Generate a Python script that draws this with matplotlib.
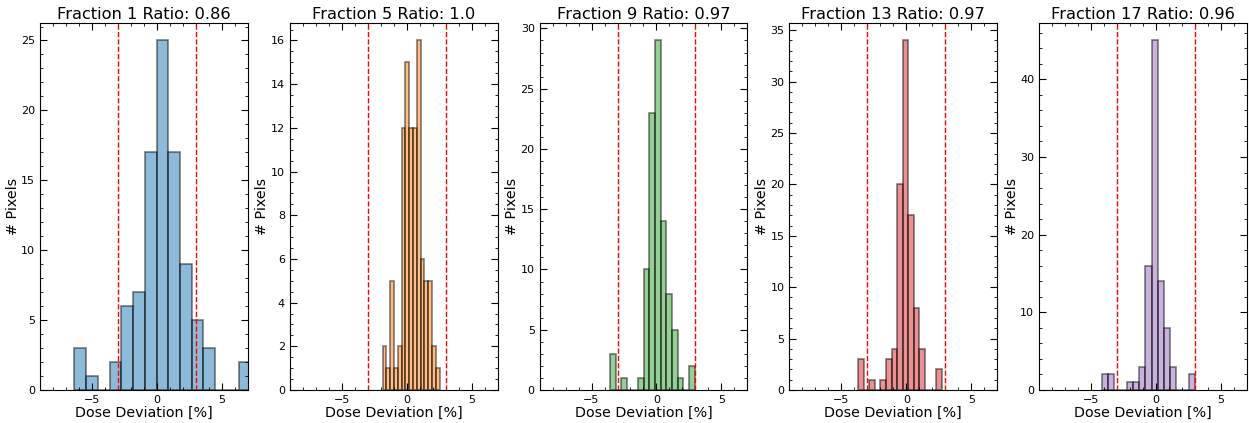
import matplotlib
matplotlib.use('Agg')
import matplotlib.pyplot as plt
import numpy as np
from matplotlib.ticker import AutoMinorLocator

fractions = [1, 5, 9, 13, 17]
ratios = ['0.86', '1.0', '0.97', '0.97', '0.96']

# histogram bin ranges (15 bins each) and counts
bin_lo = [-6.35, -1.85, -3.59, -3.72, -4.17]
bin_hi = [7.20, 2.54, 2.95, 2.74, 2.99]
counts_f1 = [3, 1, 0, 2, 6, 7, 17, 25, 17, 9, 5, 3, 0, 0, 2]
counts_f5 = [2, 1, 5, 1, 2, 12, 15, 12, 12, 16, 6, 5, 5, 2, 1]
counts_f9 = [3, 0, 1, 0, 0, 1, 10, 23, 29, 14, 8, 5, 1, 0, 2]
counts_f13 = [3, 0, 1, 0, 1, 3, 4, 20, 34, 17, 8, 4, 0, 0, 2]
counts_f17 = [2, 2, 0, 0, 1, 1, 3, 16, 45, 14, 8, 3, 0, 0, 2]
all_counts = [counts_f1, counts_f5, counts_f9, counts_f13, counts_f17]

colors = ['tab:blue', 'tab:orange', 'tab:green', 'tab:red', 'tab:purple']
tolerance = 3

fig, axes = plt.subplots(1, 5, figsize=(12.49, 4.23), dpi=100)
fig.subplots_adjust(left=0.032, right=0.9984, bottom=0.078, top=0.9456, wspace=0.202)

for i, ax in enumerate(axes):
    edges = np.linspace(bin_lo[i], bin_hi[i], len(all_counts[i]) + 1)
    centers = 0.5 * (edges[:-1] + edges[1:])
    ax.hist(centers, bins=edges, weights=all_counts[i], color=colors[i],
            alpha=0.5, edgecolor='black', linewidth=1.2)
    ax.axvline(-tolerance, color='red', linestyle='--', linewidth=1)
    ax.axvline(tolerance, color='red', linestyle='--', linewidth=1)
    ax.set_xlim(-9, 7)
    ax.set_title(f'Fraction {fractions[i]} Ratio: {ratios[i]}', fontsize=11.7, pad=3)
    ax.set_xlabel('Dose Deviation [%]', fontsize=10.3, labelpad=1)
    ax.set_ylabel('# Pixels', fontsize=10.3, labelpad=1)
    ax.xaxis.set_minor_locator(AutoMinorLocator())
    ax.yaxis.set_minor_locator(AutoMinorLocator())
    ax.tick_params(which='both', direction='in', top=True, right=True, labelsize=8)
    ax.tick_params(which='major', length=5)
    ax.tick_params(which='minor', length=2.5)

plt.savefig('out.png', dpi=100)
